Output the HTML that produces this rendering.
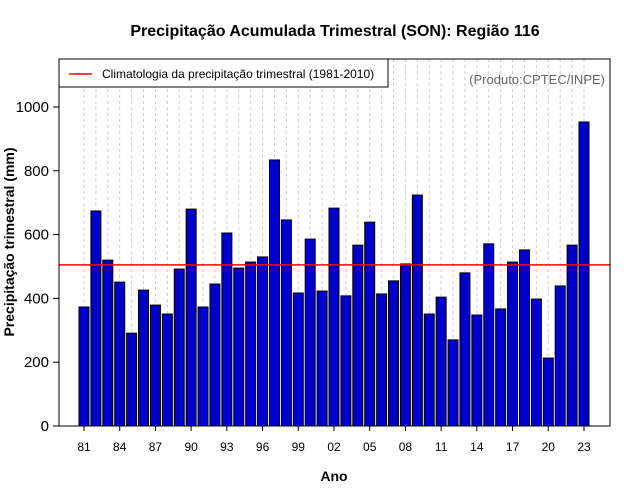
<!DOCTYPE html>
<html><head><meta charset="utf-8"><style>body{margin:0;background:#fff}svg{display:block;font-family:"Liberation Sans",sans-serif}</style></head>
<body>
<svg id="c" width="640" height="500" xmlns="http://www.w3.org/2000/svg"></svg>
<script>
const years=[81,82,83,84,85,86,87,88,89,90,91,92,93,94,95,96,97,98,99,0,1,2,3,4,5,6,7,8,9,10,11,12,13,14,15,16,17,18,19,20,21,22,23];
const values=[373,674,520,451,291,426,379,351,492,680,373,445,605,495,514,530,834,646,417,586,423,683,408,567,639,414,455,508,724,351,404,270,480,348,571,367,514,552,398,213,439,567,953];
const climatology=[505];
const yTicks=[0,200,400,600,800,1000];
const xTickLabels=["81","84","87","90","93","96","99","02","05","08","11","14","17","20","23"];
const NS="http://www.w3.org/2000/svg",svg=document.getElementById('c');
const L=59,R=610,T=59,B=426;
const y=v=>426-v*0.319;
const x=i=>84+i*(500/42);
function mk(t,a,txt){const e=document.createElementNS(NS,t);for(const k in a)e.setAttribute(k,a[k]);if(txt!=null)e.textContent=txt;svg.appendChild(e);return e;}
// grid
years.forEach((yr,i)=>{const g=mk('line',{x1:x(i),x2:x(i),y1:T,y2:B,stroke:'#ccc','stroke-dasharray':'3,3','stroke-width':1});

});
// bars
values.forEach((v,i)=>{const b=mk('rect',{x:x(i)-5,y:y(v),width:10,height:B-y(v),fill:'#0000cc',stroke:'#000','stroke-width':1});

});
// climatology
const cl=mk('line',{x1:L,x2:R,y1:y(climatology[0]),y2:y(climatology[0]),stroke:'#f00','stroke-width':1.5});


// box
const bx=mk('rect',{x:L,y:T,width:R-L,height:B-T,fill:'none',stroke:'#000'});


// y ticks
yTicks.forEach(t=>{mk('line',{x1:L-6,x2:L,y1:y(t),y2:y(t),stroke:'#000'});
const tx=mk('text',{x:L-10,y:y(t)+5,'text-anchor':'end','font-size':15},t);

});
// x ticks
xTickLabels.forEach((s,j)=>{const i=j*3;mk('line',{x1:x(i),x2:x(i),y1:B,y2:B+5,stroke:'#000'});
const tx=mk('text',{x:x(i),y:451,'text-anchor':'middle','font-size':12},s);

});
</script>
<svg width="640" height="500" style="position:absolute;left:0;top:0" xmlns="http://www.w3.org/2000/svg" font-family="Liberation Sans, sans-serif">
<text x="335" y="36" text-anchor="middle" font-size="16" font-weight="bold">Precipitação Acumulada Trimestral (SON): Região 116</text>
<g>
<rect x="59" y="59" width="329" height="28" fill="#fff" stroke="#000"/>
<line x1="69" x2="92" y1="74" y2="74" stroke="#f00" stroke-width="1.5"/>
<text x="102" y="78" font-size="12">Climatologia da precipitação trimestral (1981-2010)</text>
</g>
<text x="605" y="84" text-anchor="end" font-size="13" fill="#666">(Produto:CPTEC/INPE)</text>
<text x="334" y="481" text-anchor="middle" font-size="14" font-weight="bold">Ano</text>
<text transform="translate(14,242) rotate(-90)" text-anchor="middle" font-size="14" font-weight="bold">Precipitação trimestral (mm)</text>
</svg>
</body></html>
